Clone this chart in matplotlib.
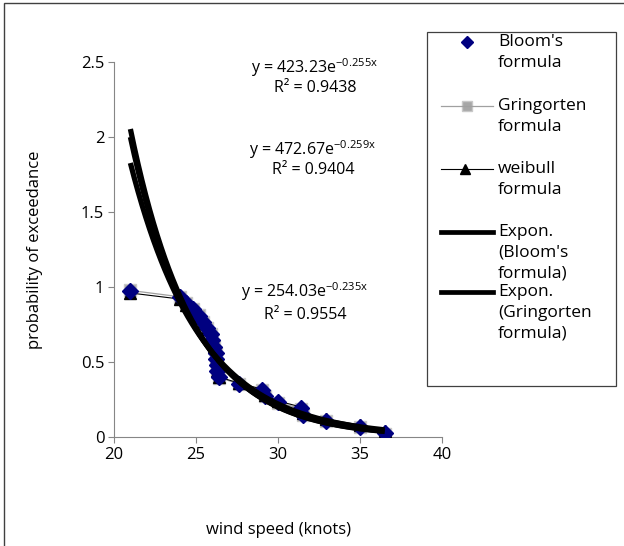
import numpy as np
import matplotlib
matplotlib.use('Agg')
import matplotlib.pyplot as plt
from matplotlib.lines import Line2D
from matplotlib.patches import Rectangle

plt.rcParams['font.family'] = ['Open Sans', 'DejaVu Sans']
plt.rcParams['mathtext.fontset'] = 'custom'
plt.rcParams['mathtext.rm'] = 'Open Sans'
plt.rcParams['mathtext.default'] = 'regular'

# wind speed (knots), ascending
wind = [21.0, 24.0, 24.4, 24.8, 25.2, 25.4, 25.7, 25.9, 26.0, 26.1, 26.2, 26.2,
        26.3, 26.3, 26.4, 27.6, 29.0, 29.2, 30.0, 31.4, 31.5, 32.9, 35.0, 36.5]

bloom = [0.974, 0.933, 0.892, 0.851, 0.809, 0.768, 0.727, 0.686, 0.644, 0.603, 0.562, 0.521,
         0.479, 0.438, 0.397, 0.356, 0.314, 0.273, 0.232, 0.191, 0.149, 0.108, 0.067, 0.026]

gringorten = [0.977, 0.935, 0.894, 0.852, 0.811, 0.769, 0.728, 0.687, 0.645, 0.604, 0.562, 0.521,
              0.479, 0.438, 0.396, 0.355, 0.313, 0.272, 0.230, 0.189, 0.147, 0.106, 0.065, 0.023]

weibull = [0.96, 0.92, 0.88, 0.84, 0.80, 0.76, 0.72, 0.68, 0.64, 0.60, 0.56, 0.52,
           0.48, 0.44, 0.40, 0.36, 0.32, 0.28, 0.24, 0.20, 0.16, 0.12, 0.08, 0.04]

# exponential trendlines as shown on the chart (Bloom's, Gringorten, weibull)
fit_a = [423.23, 472.67, 254.03]
fit_b = [-0.255, -0.259, -0.235]
fit_r2 = ['0.9438', '0.9404', '0.9554']

yticks = [0, 0.5, 1, 1.5, 2, 2.5]
ytick_labels = ['0', '0.5', '1', '1.5', '2', '2.5']
xticks = [20, 25, 30, 35, 40]

W, H = 624, 546
fx = lambda px: px / W
fy = lambda py: 1 - py / H

fig = plt.figure(figsize=(6.24, 5.46), dpi=100)
ax = fig.add_axes([fx(114), fy(437), fx(442) - fx(114), fy(62) - fy(437)])

ax.plot(wind, gringorten, color='#a0a0a0', lw=0.9, marker='s', ms=8.5,
        mfc='#a6a6a6', mec='#c8c8c8', zorder=2)
ax.plot(wind, weibull, color='black', lw=0.8, marker='^', ms=8,
        mfc='black', mec='black', zorder=3)
ax.plot(wind, bloom, ls='none', marker='D', ms=8, mfc='#000080', mec='#000080', zorder=4)

xs = np.linspace(min(wind), max(wind), 200)
for a, b in zip(fit_a, fit_b):
    ax.plot(xs, a * np.exp(b * xs), color='black', lw=3.8, zorder=5,
            solid_capstyle='butt')

# trendline equations
eq_pos = [(32.26, 2.46, 2.327), (32.13, 1.913, 1.78), (31.65, 0.967, 0.813)]
for (x, y1, y2), a, b, r2 in zip(eq_pos, fit_a, fit_b, fit_r2):
    ax.text(x, y1, 'y = %.2fe$^{%.3fx}$' % (a, b), ha='center', va='center',
            fontsize=11.5, zorder=6)
    ax.text(x, y2, 'R² = ' + r2, ha='center', va='center', fontsize=11.5, zorder=6)

ax.set_xlim(20, 40)
ax.set_ylim(0, 2.5)
ax.set_xticks(xticks)
ax.set_yticks(yticks)
ax.set_yticklabels(ytick_labels)
ax.tick_params(direction='out', length=4, width=0.8, color='#868686',
               labelsize=12, pad=3)
for s in ['top', 'right']:
    ax.spines[s].set_visible(False)
for s in ['left', 'bottom']:
    ax.spines[s].set_color('#868686')
    ax.spines[s].set_linewidth(0.8)

ax.set_xlabel('wind speed (knots)', fontsize=12)
ax.set_ylabel('probability of exceedance', fontsize=12)
ax.xaxis.set_label_coords(0.5, (437 - 530) / 375, transform=ax.transAxes)
ax.xaxis.label.set_va('center')
ax.yaxis.set_label_coords((35 - 114) / 328, 0.5, transform=ax.transAxes)
ax.yaxis.label.set_va('center')

# legend box, drawn by hand so handles sit on the first text line like Excel
fig.patches.append(Rectangle((fx(427), fy(386)), fx(616) - fx(427), fy(32) - fy(386),
                             transform=fig.transFigure, fill=True, fc='white',
                             ec='#404040', lw=0.9, zorder=10))
leg_labels = [["Bloom's", "formula"], ["Gringorten", "formula"], ["weibull", "formula"],
              ["Expon.", "(Bloom's", "formula)"], ["Expon.", "(Gringorten", "formula)"]]
leg_y = [42, 106, 169, 232, 292]
for i, (lab, py) in enumerate(zip(leg_labels, leg_y)):
    y = fy(py)
    if i == 0:
        h = Line2D([fx(467)], [y], ls='none', marker='D', ms=6.5, mfc='#000080', mec='#000080')
    elif i == 1:
        h = Line2D([fx(441), fx(493)], [y, y], color='#a0a0a0', lw=0.9)
        fig.lines.append(Line2D([fx(467)], [y], ls='none', marker='s', ms=6.5, mfc='#a6a6a6',
                                mec='#c8c8c8', transform=fig.transFigure, zorder=11))
    elif i == 2:
        h = Line2D([fx(441), fx(493)], [y, y], color='black', lw=0.8)
        fig.lines.append(Line2D([fx(465)], [y], ls='none', marker='^', ms=6.5, mfc='black',
                                mec='black', transform=fig.transFigure, zorder=11))
    else:
        h = Line2D([fx(441), fx(493)], [y, y], color='black', lw=3.4)
    h.set_transform(fig.transFigure)
    h.set_zorder(11)
    fig.lines.append(h)
    for k, line in enumerate(lab):
        fig.text(fx(498), fy(py + 20.7 * k), line, ha='left', va='center',
                 fontsize=12.5, zorder=11)

# chart area border
fig.patches.append(Rectangle((fx(4), -0.05), 1.2, fy(3) + 0.05, transform=fig.transFigure,
                             fill=False, ec='#404040', lw=1.0))

plt.savefig('out.png', dpi=100)
